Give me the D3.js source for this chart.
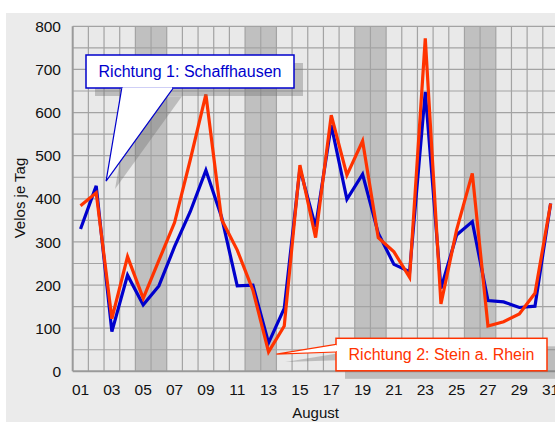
<!DOCTYPE html>
<html>
<head>
<meta charset="utf-8">
<script src="https://cdn.jsdelivr.net/npm/d3@7"></script>
<style>
  body { margin: 0; background: #fff; }
  text { font-family: Arial, "Liberation Sans", sans-serif; }
</style>
</head>
<body>
<svg id="chart" width="555" height="422"></svg>
<script>
const days = d3.range(1, 32);
const weekendDays = [5, 6, 12, 13, 19, 20, 26, 27];
const richtung1 = [330, 430, 92, 223, 154, 198, 289, 370, 466, 358, 198, 200, 66, 146, 470, 335,
    571, 399, 457, 320, 248, 231, 648, 192, 316, 347, 164, 161, 148, 151, 389];
const richtung2 = [384, 414, 122, 266, 169, 257, 345, 490, 642, 352, 281, 188, 45, 105, 478, 310,
    594, 455, 534, 310, 277, 218, 772, 156, 328, 459, 105, 115, 133, 181, 389];
const yTicks = [0, 100, 200, 300, 400, 500, 600, 700, 800];
const xTickLabels = days.filter(d => d % 2 === 1).map(d => String(d).padStart(2, "0"));

const blue = "#0000cc";
const red = "#ff3300";

const svg = d3.select("#chart");

// outer panel
svg.append("rect")
    .attr("x", 6).attr("y", 13)
    .attr("width", 549).attr("height", 409)
    .attr("fill", "#ebebeb");

const plotLeft = 72.7, plotTop = 26.3, plotBottom = 371.3;
const bw = 15.67;

const xScale = d3.scaleBand().domain(days).range([plotLeft, plotLeft + 31 * bw]).padding(0);
const xCenter = d => plotLeft + (d - 0.5) * bw;
const yScale = d3.scaleLinear().domain([0, 800]).range([plotBottom, plotTop]);

const plot = svg.append("g");

plot.append("rect")
    .attr("x", plotLeft).attr("y", plotTop)
    .attr("width", 31 * bw).attr("height", plotBottom - plotTop)
    .attr("fill", "#e9e9e9");

plot.selectAll(".weekend")
    .data(weekendDays)
    .join("rect")
    .attr("class", "weekend")
    .attr("x", d => xScale(d))
    .attr("y", plotTop)
    .attr("width", xScale.bandwidth())
    .attr("height", plotBottom - plotTop)
    .attr("fill", "#c0c0c0");

// grid
plot.selectAll(".hgrid")
    .data(d3.range(50, 801, 50))
    .join("line")
    .attr("class", "hgrid")
    .attr("x1", plotLeft).attr("x2", plotLeft + 31 * bw)
    .attr("y1", d => yScale(d)).attr("y2", d => yScale(d))
    .attr("stroke", "#a3a3a3").attr("stroke-width", 1.2);

plot.selectAll(".vgrid")
    .data(days.slice(1))
    .join("line")
    .attr("class", "vgrid")
    .attr("x1", d => xScale(d)).attr("x2", d => xScale(d))
    .attr("y1", plotTop).attr("y2", plotBottom)
    .attr("stroke", "#a3a3a3").attr("stroke-width", 1.2);

// axes lines
plot.append("line")
    .attr("x1", plotLeft).attr("x2", plotLeft).attr("y1", plotTop).attr("y2", plotBottom)
    .attr("stroke", "#9a9a9a").attr("stroke-width", 2);
plot.append("line")
    .attr("x1", plotLeft).attr("x2", 555).attr("y1", plotBottom).attr("y2", plotBottom)
    .attr("stroke", "#9a9a9a").attr("stroke-width", 2);

// tick labels
svg.selectAll(".ytick")
    .data(yTicks)
    .join("text")
    .attr("class", "ytick")
    .attr("x", 61)
    .attr("y", d => yScale(d))
    .attr("dy", "0.36em")
    .attr("text-anchor", "end")
    .attr("font-size", 15.5)
    .attr("fill", "#111")
    .text(d => d);

svg.selectAll(".xtick")
    .data(xTickLabels)
    .join("text")
    .attr("class", "xtick")
    .attr("x", d => xCenter(+d))
    .attr("y", 395)
    .attr("text-anchor", "middle")
    .attr("font-size", 15.5)
    .attr("fill", "#111")
    .text(d => d);

svg.append("text")
    .attr("x", xCenter(16))
    .attr("y", 418)
    .attr("text-anchor", "middle")
    .attr("font-size", 15)
    .attr("fill", "#111")
    .text("August");

svg.append("text")
    .attr("transform", `translate(25, ${198}) rotate(-90)`)
    .attr("text-anchor", "middle")
    .attr("font-size", 15)
    .attr("fill", "#111")
    .text("Velos je Tag");

// lines
const line = d3.line()
    .x((d, i) => xCenter(days[i]))
    .y(d => yScale(d));

plot.append("path")
    .attr("d", line(richtung1))
    .attr("fill", "none")
    .attr("stroke", blue)
    .attr("stroke-width", 3.2)
    .attr("stroke-linejoin", "miter");

plot.append("path")
    .attr("d", line(richtung2))
    .attr("fill", "none")
    .attr("stroke", red)
    .attr("stroke-width", 3.2)
    .attr("stroke-linejoin", "miter");

// callouts
const callouts = [
    { label: "Richtung 1: Schaffhausen", color: blue, box: [86, 55, 208, 33],
      tip: { day: 2.63, value: 441 }, base: [[121.7, 88.3], [173, 88.3]] },
    { label: "Richtung 2: Stein a. Rhein", color: red, box: [336, 338.3, 211, 32.5],
      tip: { day: 13.5, value: 40 }, base: [[336, 344.3], [336, 352]] }
];
const shadowDx = 9, shadowDy = 8;

callouts.forEach(c => {
    const [bx, by, bwid, bh] = c.box;
    const tx = xCenter(c.tip.day), ty = yScale(c.tip.value);
    const g = svg.append("g");
    const shadow = g.append("g")
        .attr("transform", `translate(${shadowDx},${shadowDy})`)
        .attr("fill", "#6a6a6a")
        .attr("fill-opacity", 0.35);
    shadow.append("rect").attr("x", bx).attr("y", by).attr("width", bwid).attr("height", bh);
    shadow.append("path")
        .attr("d", `M${c.base[0][0]},${c.base[0][1]}L${tx},${ty}L${c.base[1][0]},${c.base[1][1]}Z`);

    g.append("rect")
        .attr("x", bx).attr("y", by).attr("width", bwid).attr("height", bh)
        .attr("fill", "#fff")
        .attr("stroke", c.color)
        .attr("stroke-width", 1.5);
    g.append("path")
        .attr("d", `M${c.base[0][0]},${c.base[0][1]}L${tx},${ty}L${c.base[1][0]},${c.base[1][1]}`)
        .attr("fill", "#fff")
        .attr("stroke", c.color)
        .attr("stroke-width", 1.2);
    // cover the box edge where the pointer joins
    const horizontal = c.base[0][1] === c.base[1][1];
    if (horizontal) {
        g.append("line")
            .attr("x1", c.base[0][0] + 1).attr("x2", c.base[1][0] - 1)
            .attr("y1", c.base[0][1]).attr("y2", c.base[0][1])
            .attr("stroke", "#fff").attr("stroke-width", 2);
    } else {
        g.append("line")
            .attr("x1", c.base[0][0]).attr("x2", c.base[0][0])
            .attr("y1", c.base[0][1] + 1).attr("y2", c.base[1][1] - 1)
            .attr("stroke", "#fff").attr("stroke-width", 2);
    }
    g.append("text")
        .attr("x", bx + bwid / 2)
        .attr("y", by + bh / 2)
        .attr("dy", "0.36em")
        .attr("text-anchor", "middle")
        .attr("font-size", 16)
        .attr("fill", c.color)
        .text(c.label);
});
</script>
</body>
</html>
